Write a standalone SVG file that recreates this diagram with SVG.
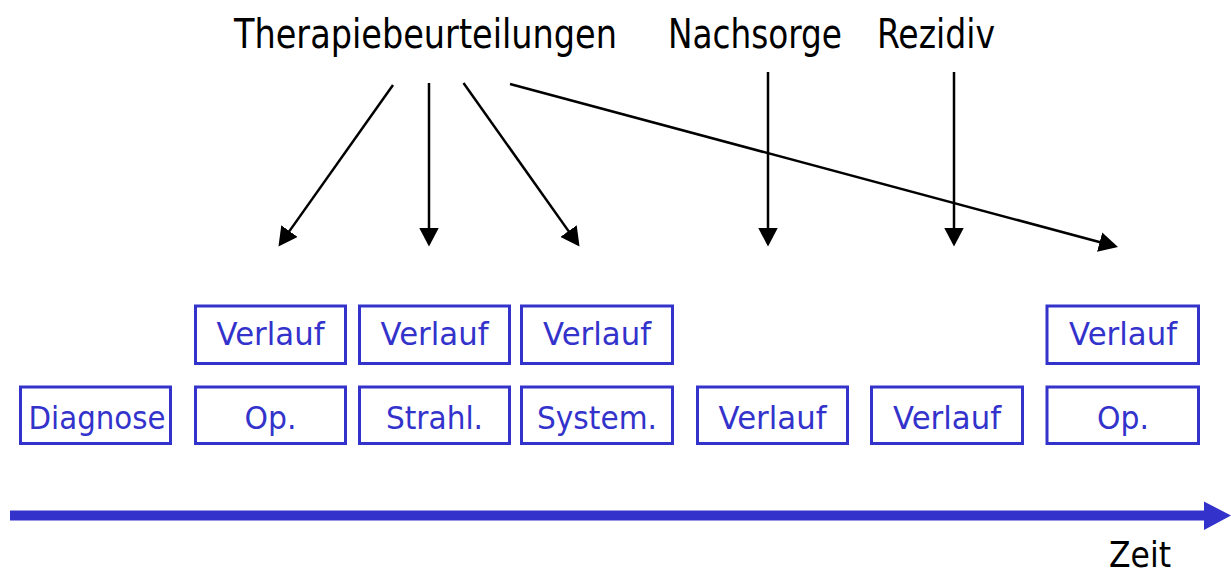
<svg xmlns="http://www.w3.org/2000/svg" width="1231" height="576" viewBox="0 0 1231 576">
  <defs>
    <style>
      .box { fill: #ffffff; stroke: #3333cc; stroke-width: 3; }
      .boxtext { font-family: "DejaVu Sans", Verdana, sans-serif; font-size: 32px; fill: #3333cc; text-anchor: middle; }
      .label { font-family: "DejaVu Sans Condensed", "DejaVu Sans", Verdana, sans-serif; font-size: 40px; fill: #000000; }
      .conn { stroke: #000000; stroke-width: 2.5; fill: none; marker-end: url(#head); }
    </style>
    <marker id="head" markerUnits="userSpaceOnUse" markerWidth="19" markerHeight="20" refX="16" refY="10" orient="auto" viewBox="0 0 19 20">
      <path d="M0,0 L19,10 L0,20 z" fill="#000000"/>
    </marker>
  </defs>
  <rect width="1231" height="576" fill="#ffffff"/>

  <!-- header labels -->
  <g id="therapiebeurteilungen">
    <text class="label" x="234" y="48" textLength="383" lengthAdjust="spacingAndGlyphs">Therapiebeurteilungen</text>
  </g>
  <g id="nachsorge">
    <text class="label" x="668" y="48" textLength="174" lengthAdjust="spacingAndGlyphs">Nachsorge</text>
  </g>
  <g id="rezidiv">
    <text class="label" x="877" y="48" textLength="118" lengthAdjust="spacingAndGlyphs">Rezidiv</text>
  </g>

  <!-- connectors from header labels down to the timeline columns -->
  <g id="connectors">
    <line class="conn" x1="393" y1="85" x2="280.2" y2="244.1"/>
    <line class="conn" x1="429" y1="83" x2="429" y2="243.5"/>
    <line class="conn" x1="463.5" y1="83" x2="577.8" y2="244.1"/>
    <line class="conn" x1="510" y1="84" x2="1115.1" y2="246.2"/>
    <line class="conn" x1="768" y1="72" x2="768" y2="243.5"/>
    <line class="conn" x1="954" y1="72" x2="954" y2="243.5"/>
  </g>

  <!-- upper row -->
  <g id="verlauf-op">
    <rect class="box" x="195.5" y="306" width="150" height="57.5"/>
    <text class="boxtext" x="270.5" y="345" textLength="108" lengthAdjust="spacingAndGlyphs">Verlauf</text>
  </g>
  <g id="verlauf-strahl">
    <rect class="box" x="359.5" y="306" width="150" height="57.5"/>
    <text class="boxtext" x="434.5" y="345" textLength="108" lengthAdjust="spacingAndGlyphs">Verlauf</text>
  </g>
  <g id="verlauf-system">
    <rect class="box" x="521.5" y="306" width="151" height="57.5"/>
    <text class="boxtext" x="597" y="345" textLength="108" lengthAdjust="spacingAndGlyphs">Verlauf</text>
  </g>
  <g id="verlauf-rezidiv">
    <rect class="box" x="1047" y="306" width="151.5" height="57.5"/>
    <text class="boxtext" x="1123" y="345" textLength="108" lengthAdjust="spacingAndGlyphs">Verlauf</text>
  </g>

  <!-- lower row -->
  <g id="diagnose">
    <rect class="box" x="20.5" y="387" width="150" height="56.5"/>
    <text class="boxtext" x="97" y="429" textLength="137" lengthAdjust="spacingAndGlyphs">Diagnose</text>
  </g>
  <g id="op">
    <rect class="box" x="195.5" y="387" width="150" height="56.5"/>
    <text class="boxtext" x="270.5" y="429" textLength="52" lengthAdjust="spacingAndGlyphs">Op.</text>
  </g>
  <g id="strahl">
    <rect class="box" x="359.5" y="387" width="150" height="56.5"/>
    <text class="boxtext" x="434.5" y="429" textLength="97" lengthAdjust="spacingAndGlyphs">Strahl.</text>
  </g>
  <g id="system">
    <rect class="box" x="521.5" y="387" width="151" height="56.5"/>
    <text class="boxtext" x="597" y="429" textLength="120" lengthAdjust="spacingAndGlyphs">System.</text>
  </g>
  <g id="verlauf-nachsorge">
    <rect class="box" x="697.5" y="387" width="150" height="56.5"/>
    <text class="boxtext" x="772.5" y="429" textLength="108" lengthAdjust="spacingAndGlyphs">Verlauf</text>
  </g>
  <g id="verlauf-nachsorge-2">
    <rect class="box" x="871.5" y="387" width="151" height="56.5"/>
    <text class="boxtext" x="947" y="429" textLength="108" lengthAdjust="spacingAndGlyphs">Verlauf</text>
  </g>
  <g id="op-rezidiv">
    <rect class="box" x="1047" y="387" width="151.5" height="56.5"/>
    <text class="boxtext" x="1123" y="429" textLength="52" lengthAdjust="spacingAndGlyphs">Op.</text>
  </g>

  <!-- time axis -->
  <g id="zeitachse">
    <line x1="10" y1="515.5" x2="1205" y2="515.5" stroke="#3333cc" stroke-width="10"/>
    <polygon points="1204,501.5 1231,515.5 1204,530" fill="#3333cc"/>
    <text class="label" x="1109" y="567" font-size="35" textLength="62" lengthAdjust="spacingAndGlyphs" style="font-size:35px">Zeit</text>
  </g>
</svg>
